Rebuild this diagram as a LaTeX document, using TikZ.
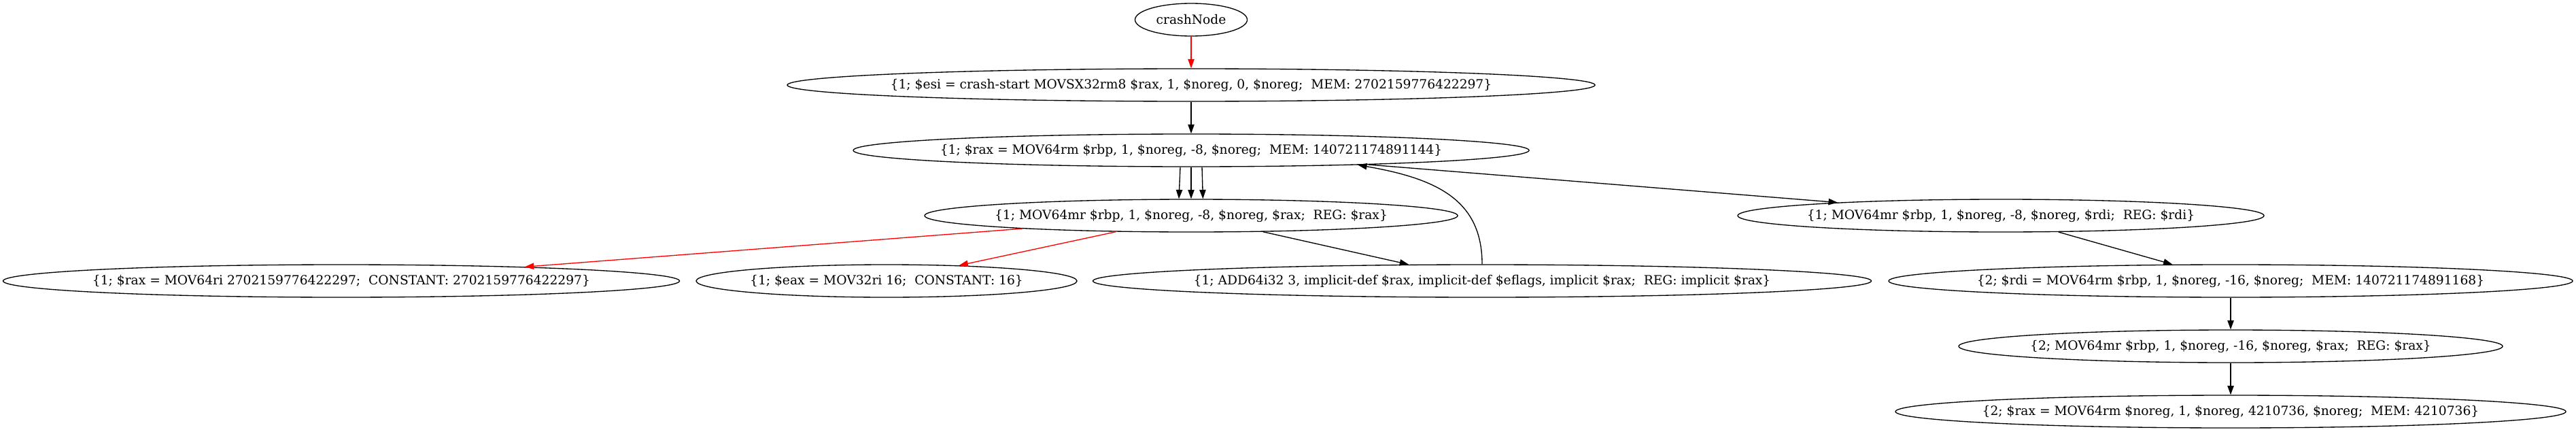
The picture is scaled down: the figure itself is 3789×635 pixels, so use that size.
\documentclass[tikz,border=0pt]{standalone}
\usepackage{fontspec}
\setmainfont{DejaVu Serif}
\usepackage{xcolor}
\usepackage{tikz}
\usetikzlibrary{arrows.meta,shapes.geometric}

% text that does not widen its ellipse
\newcommand{\oplab}[1]{\makebox[0pt]{#1}}

\begin{document}
\begin{tikzpicture}[x=0.75pt, y=-0.75pt,
  op/.style={ellipse, draw, line width=1pt, inner sep=0pt, minimum height=36pt,
    font=\fontsize{14pt}{17pt}\selectfont},
  edge/.style={-{Triangle[length=10pt,width=7pt]}, line width=1pt},
  hot/.style={edge, red}]
\useasboundingbox (0,0) rectangle (3789,635);

% Crash chain (middle column)
\node[op, minimum width=0.75*165pt] (crash) at (1752,29) {\oplab{crashNode}};
\node[op, minimum width=0.75*1188pt] (esi) at (1752,125)
  {\oplab{\{1; \$esi = crash-start MOVSX32rm8 \$rax, 1, \$noreg, 0, \$noreg;~ MEM: 2702159776422297\}}};
\node[op, minimum width=0.75*994pt] (raxLoad) at (1752,221)
  {\oplab{\{1; \$rax = MOV64rm \$rbp, 1, \$noreg, -8, \$noreg;~ MEM: 140721174891144\}}};
\node[op, minimum width=0.75*784pt] (raxStore) at (1752,317)
  {\oplab{\{1; MOV64mr \$rbp, 1, \$noreg, -8, \$noreg, \$rax;~ REG: \$rax\}}};

% Definitions reaching the store
\node[op, minimum width=0.75*995pt] (raxConst) at (502,413)
  {\oplab{\{1; \$rax = MOV64ri 2702159776422297;~ CONSTANT: 2702159776422297\}}};
\node[op, minimum width=0.75*560pt] (eaxConst) at (1304,413)
  {\oplab{\{1; \$eax = MOV32ri 16;~ CONSTANT: 16\}}};
\node[op, minimum width=0.75*1145pt] (addRax) at (2180,413)
  {\oplab{\{1; ADD64i32 3, implicit-def \$rax, implicit-def \$eflags, implicit \$rax;~ REG: implicit \$rax\}}};

% Second frame (right column)
\node[op, minimum width=0.75*774pt] (rdiStore) at (2943,317)
  {\oplab{\{1; MOV64mr \$rbp, 1, \$noreg, -8, \$noreg, \$rdi;~ REG: \$rdi\}}};
\node[op, minimum width=0.75*1006pt] (rdiLoad) at (3281,413)
  {\oplab{\{2; \$rdi = MOV64rm \$rbp, 1, \$noreg, -16, \$noreg;~ MEM: 140721174891168\}}};
\node[op, minimum width=0.75*800pt] (raxStore2) at (3281,509)
  {\oplab{\{2; MOV64mr \$rbp, 1, \$noreg, -16, \$noreg, \$rax;~ REG: \$rax\}}};
\node[op, minimum width=0.75*986pt] (raxLoad2) at (3281,605)
  {\oplab{\{2; \$rax = MOV64rm \$noreg, 1, \$noreg, 4210736, \$noreg;~ MEM: 4210736\}}};

% Edges
\draw[hot] (crash) -- (esi);
\draw[edge] (esi) -- (raxLoad);
\foreach \s/\e in {-12/-13.5, 0/0, 12/13}
  \draw[edge] ([xshift=\s pt]raxLoad.south) -- ([xshift=\e pt]raxStore.north);
\draw[edge] (raxLoad) -- (rdiStore);
\draw[hot] (raxStore) -- (raxConst);
\draw[hot] (raxStore) -- (eaxConst);
\draw[edge] (raxStore) -- (addRax);
\draw[edge] (addRax.north) .. controls +(0,-95) and +(115,20) .. (raxLoad.-5);
\draw[edge] (rdiStore) -- (rdiLoad);
\draw[edge] (rdiLoad) -- (raxStore2);
\draw[edge] (raxStore2) -- (raxLoad2);
\end{tikzpicture}
\end{document}
